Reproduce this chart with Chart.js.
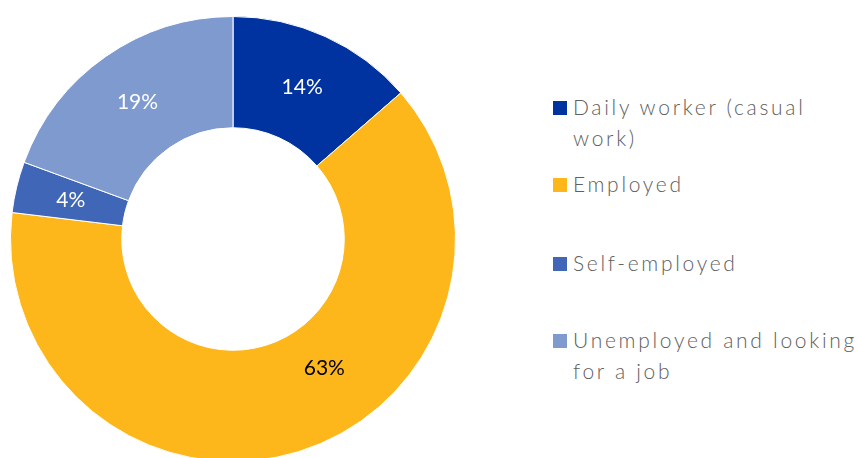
<!DOCTYPE html>
<html>
<head>
<meta charset="utf-8">
<script src="https://cdn.jsdelivr.net/npm/chart.js@4.4.0/dist/chart.umd.min.js"></script>
<style>
  body { margin: 0; width: 858px; height: 458px; overflow: hidden; background: #fff; position: relative; }
  #chart-box { position: absolute; left: 10px; top: 16px; width: 446px; height: 446px; }
  #legend { position: absolute; left: 553px; top: 0; width: 305px; font-family: Lato, "Open Sans", sans-serif; }
  .item { position: absolute; left: 0; width: 310px; color: #606060; font-size: 21px; font-weight: 300; letter-spacing: 2.7px; line-height: 31px; white-space: nowrap; }
  .item .sw { position: absolute; left: 0; width: 14px; height: 14px; }
  .item .txt { margin-left: 20px; display: block; position: relative; top: -3px; }
</style>
</head>
<body>
<div id="chart-box"><canvas id="grafico"></canvas></div>
<div id="legend"></div>
<script>
// datos
var categorias = ['Daily worker (casual work)', 'Employed', 'Self-employed', 'Unemployed and looking for a job'];
var legendLines = [['Daily worker (casual', 'work)'], ['Employed'], ['Self-employed'], ['Unemployed and looking', 'for a job']];
var valores = [13.6, 63.3, 3.7, 19.4];
var colores = ['#0033A0', '#FDB71B', '#4066B8', '#7F9ACF'];
var colorEtiqueta = ['#ffffff', '#000000', '#ffffff', '#ffffff'];
// posición de la etiqueta dentro del arco (fracción del ángulo y del radio)
var posEtiqueta = [0.5, 0.42, 0.5, 0.5];
var radioEtiqueta = [0.5, 0.42, 0.5, 0.5];
var legendTop = [94, 171, 250, 327];

// plugin simple para escribir los porcentajes
var etiquetas = {
    id: 'etiquetas',
    afterDatasetsDraw: function (chart) {
        var ctx = chart.ctx;
        var meta = chart.getDatasetMeta(0);
        var total = valores.reduce(function (a, b) { return a + b; }, 0);
        ctx.save();
        ctx.font = '21px Lato, "Open Sans", sans-serif';
        ctx.textAlign = 'center';
        ctx.textBaseline = 'middle';
        meta.data.forEach(function (arc, i) {
            var p = arc.getProps(['startAngle', 'endAngle', 'innerRadius', 'outerRadius', 'x', 'y'], true);
            var ang = p.startAngle + (p.endAngle - p.startAngle) * posEtiqueta[i];
            var r = p.innerRadius + (p.outerRadius - p.innerRadius) * radioEtiqueta[i];
            var x = p.x + Math.cos(ang) * r;
            var y = p.y + Math.sin(ang) * r;
            ctx.fillStyle = colorEtiqueta[i];
            ctx.fillText(Math.round(valores[i] / total * 100) + '%', x, y);
        });
        ctx.restore();
    }
};

var ctx = document.getElementById('grafico').getContext('2d');
new Chart(ctx, {
    type: 'doughnut',
    data: {
        labels: categorias,
        datasets: [{
            data: valores,
            backgroundColor: colores,
            borderColor: '#ffffff',
            borderWidth: 1
        }]
    },
    options: {
        responsive: true,
        maintainAspectRatio: false,
        animation: false,
        cutout: '50%',
        layout: { padding: 0 },
        plugins: {
            legend: { display: false },
            tooltip: { enabled: false }
        }
    },
    plugins: [etiquetas]
});

// leyenda en HTML
var legend = document.getElementById('legend');
categorias.forEach(function (c, i) {
    var div = document.createElement('div');
    div.className = 'item';
    div.style.top = legendTop[i] + 'px';
    var sw = document.createElement('span');
    sw.className = 'sw';
    sw.style.background = colores[i];
    sw.style.top = '7px';
    div.appendChild(sw);
    var txt = document.createElement('span');
    txt.className = 'txt';
    txt.innerHTML = legendLines[i].join('<br>');
    div.appendChild(txt);
    legend.appendChild(div);
});
</script>
</body>
</html>
